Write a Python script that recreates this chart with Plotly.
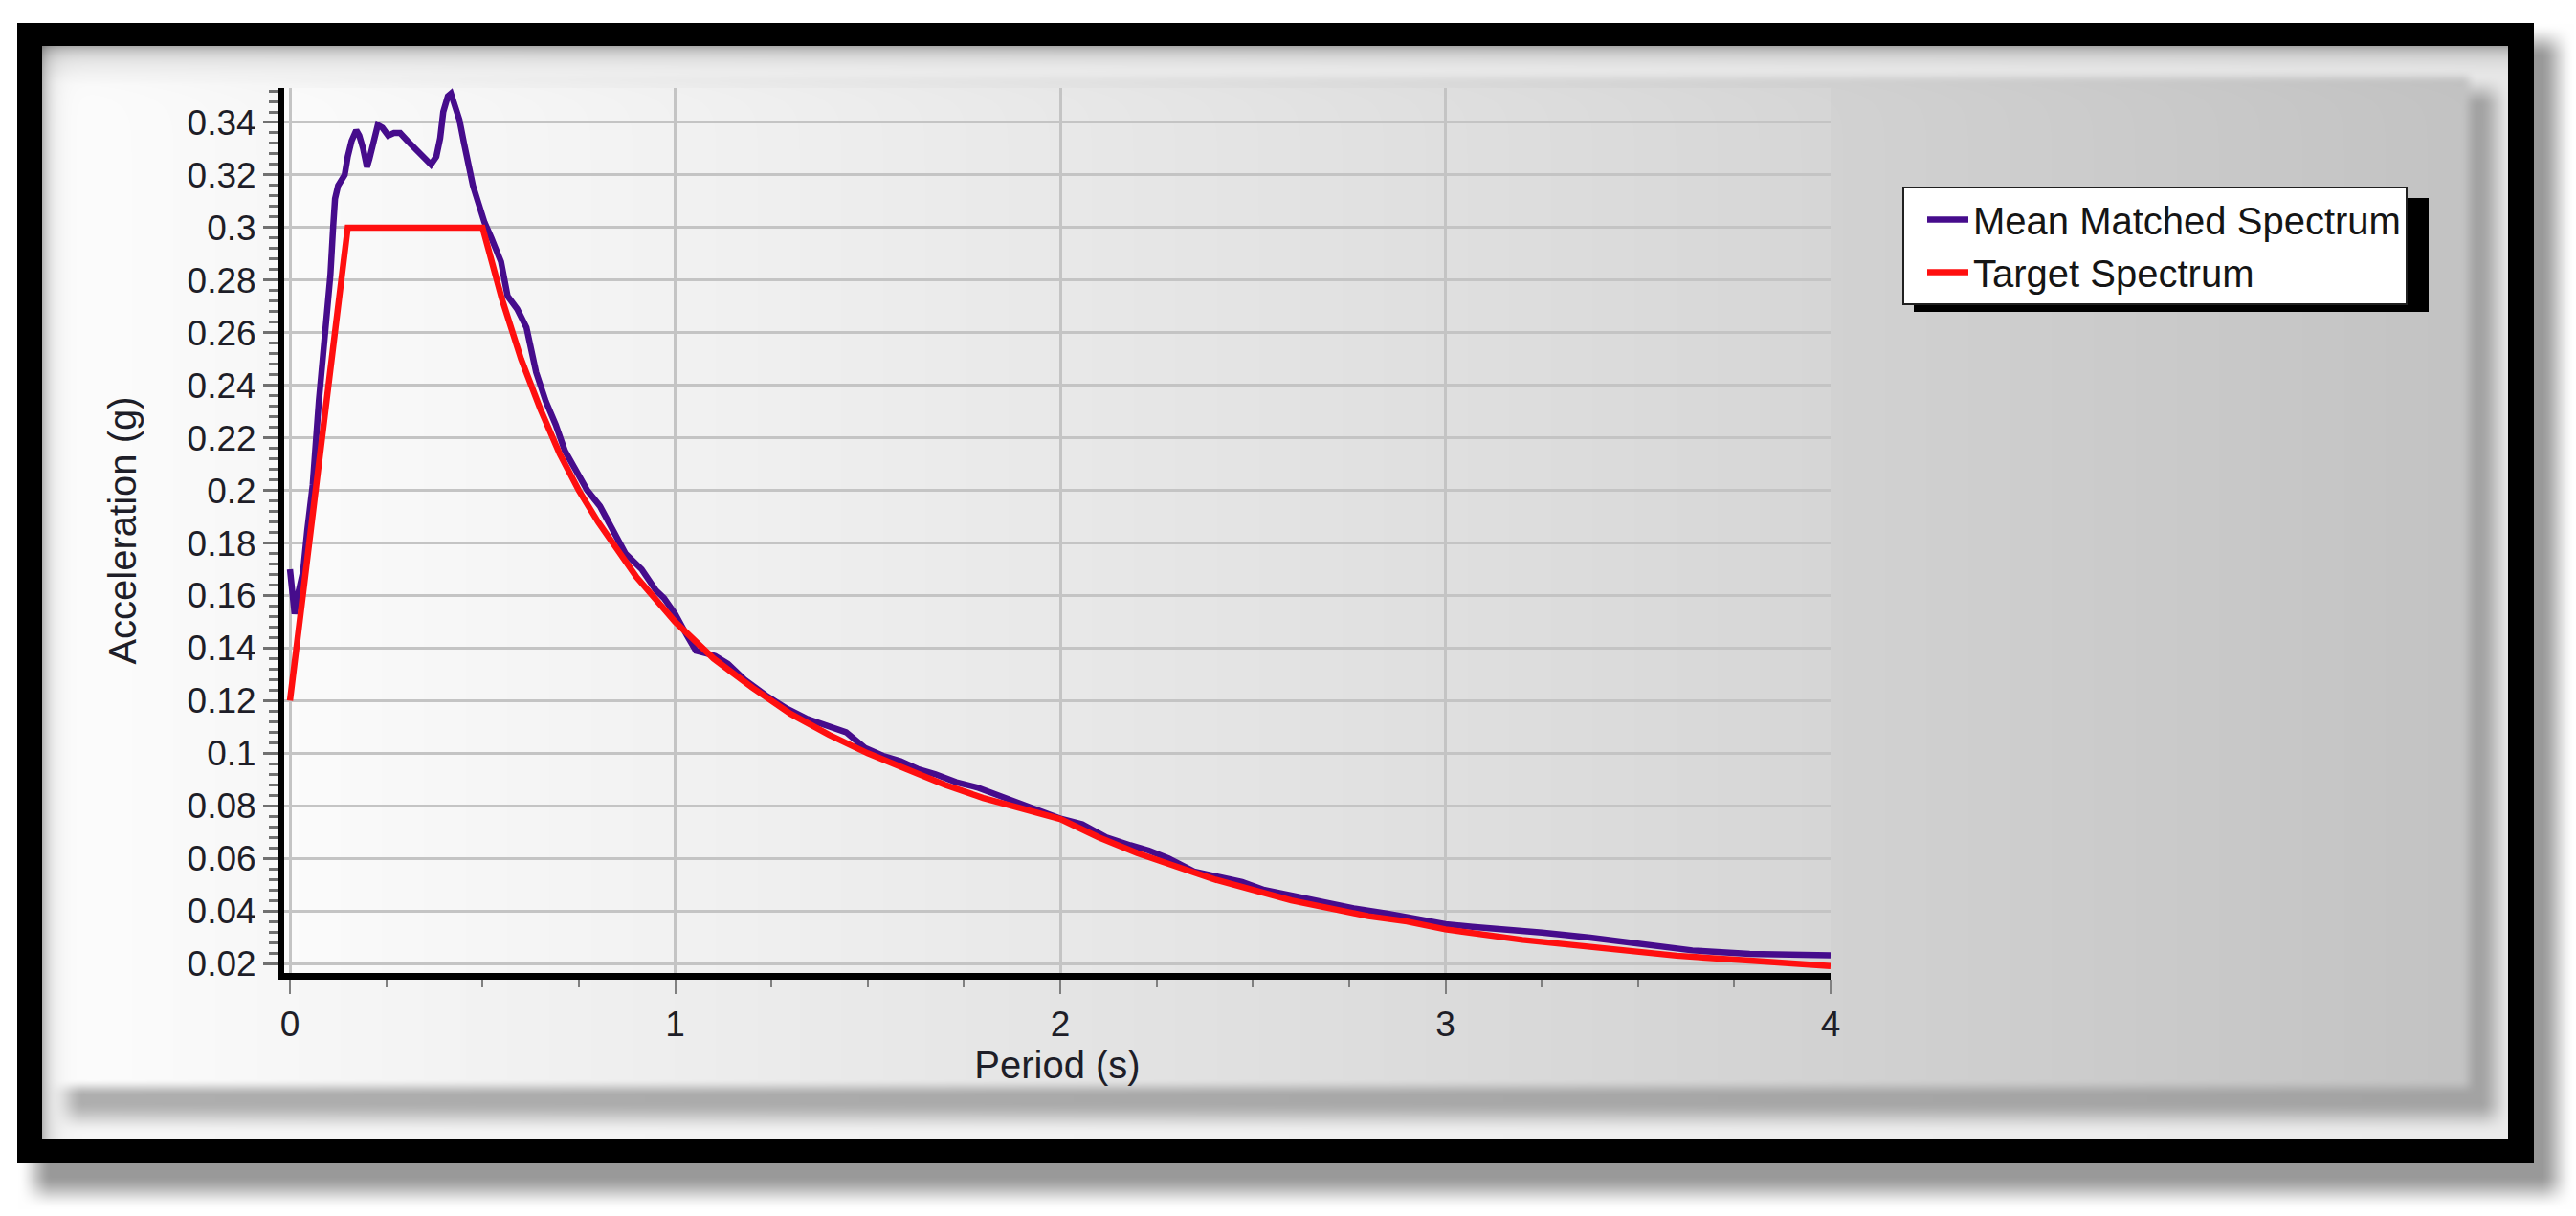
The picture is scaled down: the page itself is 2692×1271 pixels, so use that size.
import base64
import struct
import zlib

import numpy as np
import plotly.graph_objects as go

# ---------------- data ----------------
mean_period = [
    0.000, 0.012, 0.020, 0.034, 0.045, 0.059, 0.075, 0.092, 0.105, 0.112,
    0.117, 0.125, 0.142, 0.150, 0.160, 0.172, 0.180, 0.190, 0.200, 0.206,
    0.216, 0.228, 0.240, 0.255, 0.270, 0.286, 0.305, 0.324, 0.345, 0.366,
    0.380, 0.390, 0.398, 0.410, 0.418, 0.428, 0.440, 0.452, 0.462, 0.475,
    0.490, 0.505, 0.523, 0.548, 0.565, 0.590, 0.614, 0.639, 0.664, 0.690,
    0.714, 0.740, 0.772, 0.805, 0.840, 0.871, 0.913, 0.950, 0.971, 1.000,
    1.030, 1.054, 1.080, 1.104, 1.137, 1.180, 1.236, 1.290, 1.344, 1.400,
    1.444, 1.493, 1.540, 1.585, 1.630, 1.676, 1.730, 1.784, 1.840, 1.880,
    1.933, 2.003, 2.057, 2.120, 2.182, 2.230, 2.281, 2.347, 2.410, 2.472,
    2.530, 2.596, 2.680, 2.762, 2.850, 2.928, 3.000, 3.070, 3.135, 3.251,
    3.376, 3.500, 3.641, 3.790, 3.900, 4.000,
]
mean_accel = [
    0.170, 0.153, 0.160, 0.169, 0.185, 0.202, 0.234, 0.259, 0.282, 0.300,
    0.311, 0.316, 0.320, 0.327, 0.333, 0.337, 0.335, 0.330, 0.323, 0.326,
    0.333, 0.339, 0.338, 0.335, 0.336, 0.336, 0.333, 0.330, 0.327, 0.324,
    0.327, 0.334, 0.344, 0.350, 0.351, 0.347, 0.341, 0.332, 0.324, 0.316,
    0.309, 0.302, 0.296, 0.287, 0.274, 0.269, 0.262, 0.245, 0.234, 0.225,
    0.215, 0.208, 0.200, 0.194, 0.184, 0.176, 0.170, 0.162, 0.159, 0.153,
    0.145, 0.139, 0.138, 0.137, 0.134, 0.128, 0.122, 0.117, 0.113, 0.110,
    0.108, 0.102, 0.099, 0.097, 0.094, 0.092, 0.089, 0.087, 0.084, 0.082,
    0.079, 0.075, 0.073, 0.068, 0.065, 0.063, 0.060, 0.055, 0.053, 0.051,
    0.048, 0.046, 0.043, 0.041, 0.039, 0.037, 0.035, 0.034, 0.033, 0.0318,
    0.0299, 0.0274, 0.0250, 0.0237, 0.0233, 0.0231,
]

target_period = [
    0.00, 0.15, 0.50, 0.55, 0.60, 0.65, 0.70, 0.75, 0.80, 0.90, 1.00,
    1.10, 1.20, 1.30, 1.40, 1.50, 1.60, 1.70, 1.80, 1.90, 2.00, 2.10,
    2.20, 2.30, 2.40, 2.50, 2.60, 2.70, 2.80, 2.90, 3.00, 3.20, 3.40,
    3.60, 3.80, 4.00,
]
target_accel = [
    0.120, 0.300, 0.300, 0.273, 0.250, 0.231, 0.214, 0.200, 0.188, 0.167, 0.150,
    0.136, 0.125, 0.115, 0.107, 0.100, 0.094, 0.088, 0.083, 0.079, 0.075, 0.068,
    0.062, 0.057, 0.052, 0.048, 0.044, 0.041, 0.038, 0.036, 0.033, 0.029, 0.026,
    0.023, 0.021, 0.019,
]

x_tick_vals = [0, 1, 2, 3, 4]
x_tick_labels = ["0", "1", "2", "3", "4"]
y_tick_vals = [0.02, 0.04, 0.06, 0.08, 0.10, 0.12, 0.14, 0.16, 0.18, 0.20,
               0.22, 0.24, 0.26, 0.28, 0.30, 0.32, 0.34]
y_tick_labels = ["0.02", "0.04", "0.06", "0.08", "0.1", "0.12", "0.14", "0.16",
                 "0.18", "0.2", "0.22", "0.24", "0.26", "0.28", "0.3", "0.32", "0.34"]

series_names = ["Mean Matched Spectrum", "Target Spectrum"]

# ---------------- geometry ----------------
W, H = 2692, 1271
L, R, T, B = 297, 779, 92, 254
PW, PH = W - L - R, H - T - B

# ---------------- background picture (frame, panel, shadows) ----------------
Xp = np.arange(W, dtype=np.float32)[None, :]
Yp = np.arange(H, dtype=np.float32)[:, None]


def _ramp(v, a, b, s):
    t1 = np.clip((v - a) / s + 0.5, 0, 1)
    t2 = np.clip((b - v) / s + 0.5, 0, 1)
    t1 = t1 * t1 * (3 - 2 * t1)
    t2 = t2 * t2 * (3 - 2 * t2)
    return t1 * t2


def soft(x0, x1, y0, y1, s):
    return _ramp(Xp, x0, x1, s) * _ramp(Yp, y0, y1, s)


def hard(x0, x1, y0, y1):
    return (((Xp >= x0) & (Xp < x1)) & ((Yp >= y0) & (Yp < y1))).astype(np.float32)


img = np.full((H, W), 255.0, dtype=np.float32)
img = img * (1 - 0.40 * soft(36, 2672, 42, 1246, 36))

content = (247 - 12 * (Xp / W)) + 0 * Yp
content = content - 72 * soft(70, 2608, 94, 1168, 34)
pm = soft(50, 2580, 80, 1136, 18)
panel_c = 253 - 58 * np.clip((Xp - 50) / 2530, 0, 1)
content = content * (1 - pm) + panel_c * pm
content = content + 4 * hard(L, L + PW, T, T + PH)
content = content * (1 - 0.30 * np.exp(-np.clip(Yp - 48, 0, None) / 11))
content = content * (1 - 0.26 * np.exp(-np.clip(Xp - 44, 0, None) / 9))

frame = hard(18, 2648, 24, 1216)
inner = hard(44, 2621, 48, 1190)
img = img * (1 - frame)
img = img * (1 - inner) + content * inner
arr = np.clip(img, 0, 255).astype(np.uint8)


def png_gray(a):
    h, w = a.shape
    raw = np.hstack([np.zeros((h, 1), np.uint8), a]).tobytes()

    def chunk(tag, data):
        c = struct.pack(">I", len(data)) + tag + data
        return c + struct.pack(">I", zlib.crc32(tag + data) & 0xFFFFFFFF)

    return (b"\x89PNG\r\n\x1a\n"
            + chunk(b"IHDR", struct.pack(">IIBBBBB", w, h, 8, 0, 0, 0, 0))
            + chunk(b"IDAT", zlib.compress(raw, 9))
            + chunk(b"IEND", b""))


bg_src = "data:image/png;base64," + base64.b64encode(png_gray(arr)).decode()

# ---------------- figure ----------------
FONT = "Liberation Sans, Arial, sans-serif"
fig = go.Figure()
fig.add_trace(go.Scatter(
    x=mean_period, y=mean_accel, mode="lines", name=series_names[0],
    line=dict(color="#460C8C", width=6.5),
))
fig.add_trace(go.Scatter(
    x=target_period, y=target_accel, mode="lines", name=series_names[1],
    line=dict(color="#FF0F0F", width=6.5),
))


def px_x(p):
    return (p - L) / PW


def px_y(p):
    return (T + PH - p) / PH


LEG_X0, LEG_Y0, LEG_X1, LEG_Y1 = 1988, 195, 2527, 315

fig.update_layout(
    template="none",
    width=W, height=H,
    margin=dict(l=L, r=R, t=T, b=B, pad=0),
    paper_bgcolor="white",
    plot_bgcolor="rgba(0,0,0,0)",
    font=dict(family=FONT, size=37, color="#1E1E28"),
    showlegend=True,
    legend=dict(
        x=px_x(LEG_X0), y=px_y(LEG_Y0), xanchor="left", yanchor="top",
        bgcolor="white", bordercolor="#202020", borderwidth=2,
        font=dict(family=FONT, size=40, color="#151515"),
        itemwidth=43, tracegroupgap=0, indentation=19,
        entrywidth=492, entrywidthmode="pixels",
    ),
    images=[dict(
        source=bg_src, xref="paper", yref="paper",
        x=px_x(0), y=px_y(0), sizex=W / PW, sizey=H / PH,
        xanchor="left", yanchor="top", sizing="stretch", layer="below",
    )],
    shapes=[dict(
        type="rect", xref="paper", yref="paper",
        x0=px_x(LEG_X0 + 12), x1=px_x(LEG_X1 + 11),
        y0=px_y(LEG_Y1 + 11), y1=px_y(LEG_Y0 + 12),
        fillcolor="black", line=dict(width=0), layer="above",
    )],
)

fig.update_xaxes(
    range=[-0.015, 4.0],
    tickmode="array", tickvals=x_tick_vals, ticktext=x_tick_labels,
    showgrid=True, gridcolor="#C4C4C4", gridwidth=2.5,
    zeroline=False,
    showline=True, linecolor="black", linewidth=7,
    ticks="outside", ticklen=15, tickwidth=2, tickcolor="#808080",
    minor=dict(tickmode="linear", tick0=0, dtick=0.25, ticks="outside",
               ticklen=8, tickwidth=2, tickcolor="#808080", showgrid=False),
    tickfont=dict(family=FONT, size=37, color="#1E1E28"),
    title=dict(text="Period (s)", font=dict(family=FONT, size=40, color="#1E1E28"),
               standoff=10),
    automargin=False,
)
fig.update_yaxes(
    range=[0.0164, 0.3531],
    tickmode="array", tickvals=y_tick_vals, ticktext=y_tick_labels,
    showgrid=True, gridcolor="#C4C4C4", gridwidth=3,
    zeroline=False,
    showline=True, linecolor="black", linewidth=7,
    ticks="outside", ticklen=15, tickwidth=3, tickcolor="#707070",
    minor=dict(tickmode="linear", tick0=0, dtick=0.004, ticks="outside",
               ticklen=9, tickwidth=3, tickcolor="#707070", showgrid=False),
    tickfont=dict(family=FONT, size=37, color="#1E1E28"),
    title=dict(text="Acceleration (g)", font=dict(family=FONT, size=40, color="#1E1E28"),
               standoff=43),
    automargin=False,
)

fig.write_html("out.html", config={"displayModeBar": False},
               post_script="document.body.style.margin='0';")
